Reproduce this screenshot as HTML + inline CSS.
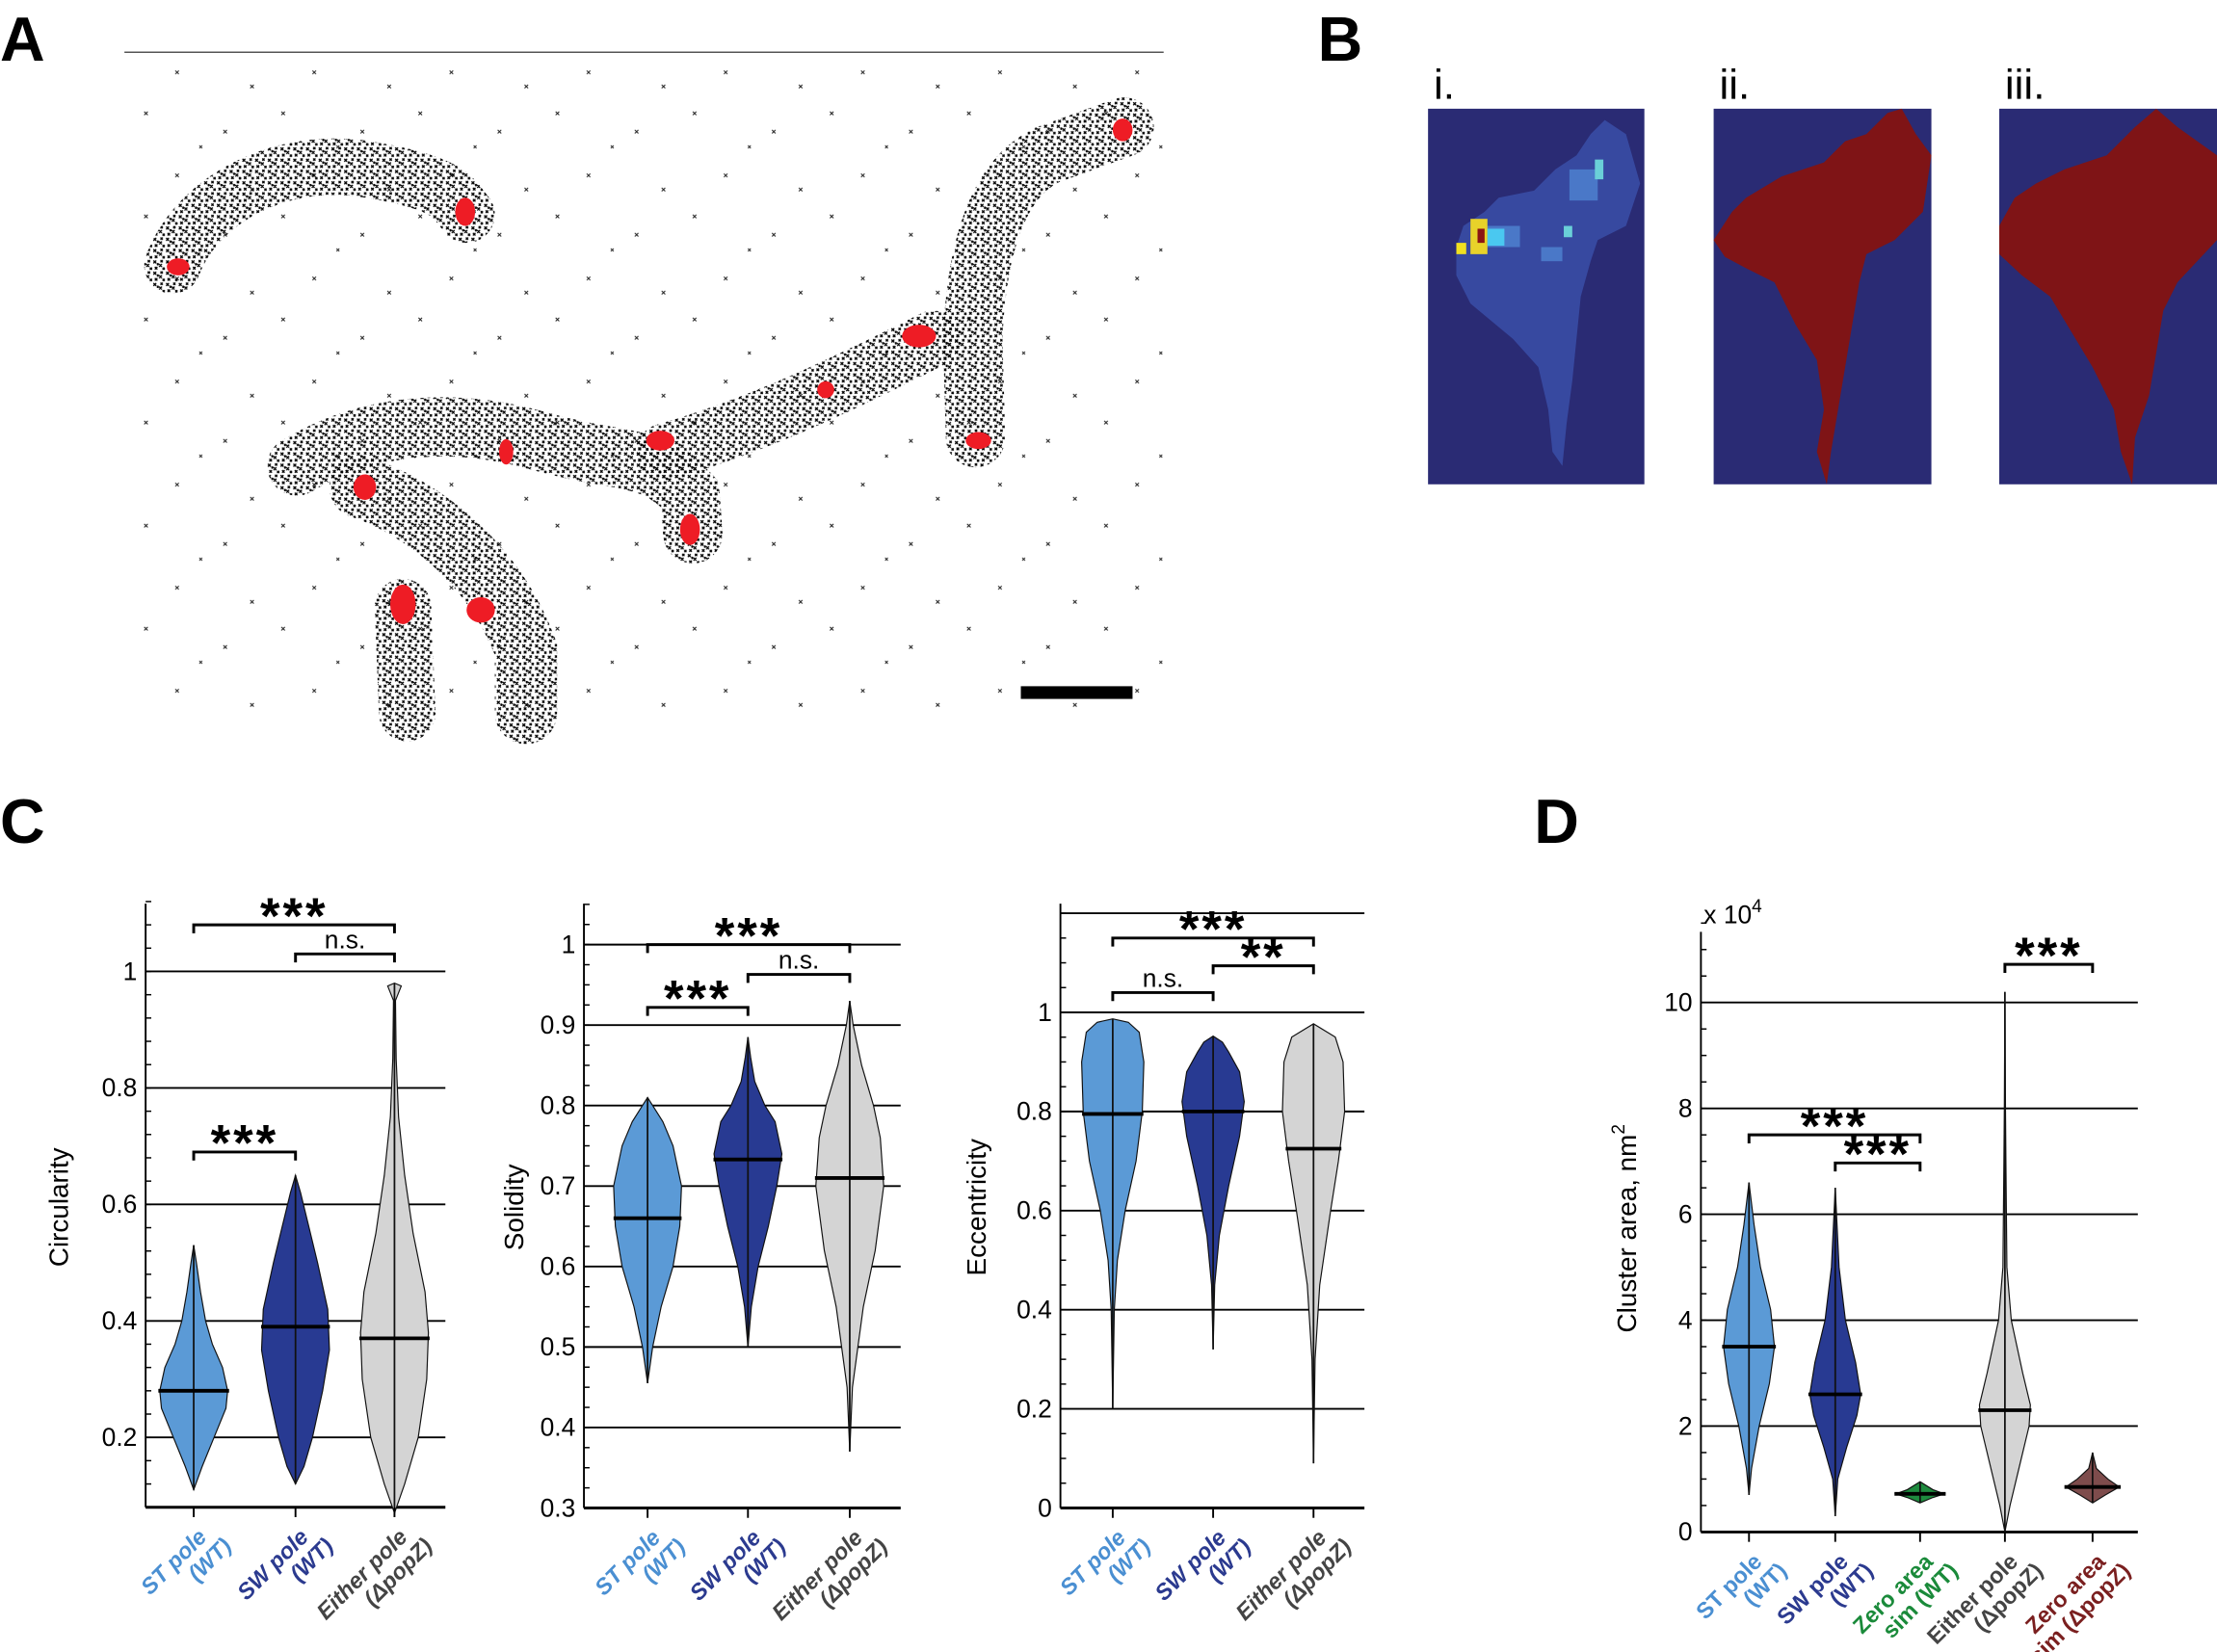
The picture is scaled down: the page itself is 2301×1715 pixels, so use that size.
<!DOCTYPE html>
<html><head><meta charset="utf-8"><style>
html,body{margin:0;padding:0;background:#fff;}
svg{display:block;font-family:"Liberation Sans",Arial,sans-serif;}
</style></head><body>
<svg id="fig" width="2301" height="1715" viewBox="0 0 1568 1170" preserveAspectRatio="none" xmlns="http://www.w3.org/2000/svg">
<defs>
<pattern id="dense" width="9" height="8" patternUnits="userSpaceOnUse">
<g stroke="#000" stroke-width="0.9"><path d="M0.5 0.5l2 2M2.5 0.5l-2 2M4.5 3l2 2M6.5 3l-2 2M1.5 5l1.8 1.8M3.3 5l-1.8 1.8M5.5 0.2l1.6 1.6M7.1 0.2l-1.6 1.6M7 5.5l1.5 1.5M8.5 5.5l-1.5 1.5M3 2.5l1.2 1.2M4.2 2.5l-1.2 1.2"/></g>
</pattern>
<pattern id="sparse" width="97" height="73" patternUnits="userSpaceOnUse">
<g stroke="#222" stroke-width="0.7"><path d="M5 6l2.5 2.5M7.5 6l-2.5 2.5M61 19l2.5 2.5M63.5 19l-2.5 2.5M27 50l2.5 2.5M29.5 50l-2.5 2.5M80 60l2.5 2.5M82.5 60l-2.5 2.5M44 30l2 2M46 30l-2 2"/></g>
</pattern>
</defs>

<text x="0" y="43" font-size="44" font-weight="bold">A</text>
<text x="932" y="43" font-size="44" font-weight="bold">B</text>
<text x="0" y="597" font-size="44" font-weight="bold">C</text>
<text x="1085" y="597" font-size="44" font-weight="bold">D</text>

<g>
<line x1="88" y1="37" x2="823" y2="37" stroke="#555" stroke-width="1"/>
<rect x="88" y="40" width="735" height="470" fill="url(#sparse)"/>
<g fill="none" stroke="url(#dense)" stroke-linecap="round">
<path d="M122 188 C140 140 200 110 260 120 S320 140 330 152" stroke-width="40"/>
<path d="M210 330 C260 300 320 295 380 312 S460 320 488 350 L490 378" stroke-width="42"/>
<path d="M255 345 C300 360 350 400 372 460 L372 505" stroke-width="44"/>
<path d="M285 430 L288 505" stroke-width="40"/>
<path d="M470 320 C540 300 600 270 660 240" stroke-width="40"/>
<path d="M690 310 L688 240 C690 190 700 130 740 110 L795 90" stroke-width="42"/>
</g>
<g fill="#ee1c25">
<ellipse cx="126" cy="189" rx="8" ry="6"/><ellipse cx="329" cy="150" rx="7" ry="10"/>
<ellipse cx="258" cy="345" rx="8" ry="9"/><ellipse cx="358" cy="320" rx="5" ry="9"/>
<ellipse cx="467" cy="312" rx="10" ry="7"/><ellipse cx="488" cy="375" rx="7" ry="11"/>
<ellipse cx="584" cy="276" rx="6" ry="6"/><ellipse cx="650" cy="238" rx="12" ry="8"/>
<ellipse cx="692" cy="312" rx="9" ry="6"/><ellipse cx="794" cy="92" rx="7" ry="8"/>
<ellipse cx="285" cy="428" rx="9" ry="14"/><ellipse cx="340" cy="432" rx="10" ry="9"/>
</g>
<rect x="722" y="486" width="79" height="9" fill="#000"/>
</g>

<g>
<text x="1014" y="70" font-size="30">i.</text>
<text x="1216" y="70" font-size="30">ii.</text>
<text x="1418" y="70" font-size="30">iii.</text>
<rect x="1010" y="77" width="153" height="266" fill="#2a2b74"/>
<rect x="1212" y="77" width="154" height="266" fill="#2a2b74"/>
<rect x="1414" y="77" width="154" height="266" fill="#2a2b74"/>
<g fill="#3a4fa8" opacity="0.85">
<path d="M1030 175 L1035 160 L1050 150 L1060 140 L1085 135 L1100 120 L1115 110 L1125 95 L1135 85 L1150 95 L1160 130 L1150 160 L1130 170 L1125 185 L1118 210 L1115 240 L1112 270 L1108 300 L1105 330 L1098 320 L1095 290 L1088 260 L1070 240 L1058 230 L1040 215 L1030 195 Z"/>
</g>
<g fill="#4a78c8"><rect x="1110" y="120" width="20" height="22"/><rect x="1050" y="160" width="25" height="15"/><rect x="1090" y="175" width="15" height="10"/></g>
<rect x="1040" y="155" width="12" height="25" fill="#e8d22a"/>
<rect x="1045" y="162" width="5" height="10" fill="#8b1414"/>
<rect x="1052" y="162" width="12" height="12" fill="#4ac8f0"/>
<rect x="1030" y="172" width="7" height="8" fill="#f0e020"/>
<rect x="1128" y="113" width="6" height="14" fill="#6ad0d8"/>
<rect x="1106" y="160" width="6" height="8" fill="#6ad0d8"/>
<g fill="#7f1416">
<path d="M1212 170 L1225 150 L1235 140 L1260 125 L1290 115 L1305 100 L1320 95 L1335 80 L1345 77 L1355 95 L1366 110 L1360 150 L1340 170 L1320 180 L1315 200 L1310 230 L1305 260 L1300 290 L1295 320 L1292 343 L1285 320 L1290 290 L1285 255 L1270 230 L1255 200 L1235 190 L1220 182 Z"/>
<path d="M1414 160 L1425 140 L1440 130 L1460 120 L1490 110 L1510 90 L1525 77 L1540 90 L1568 110 L1568 170 L1540 200 L1530 220 L1525 250 L1520 280 L1510 310 L1508 343 L1500 320 L1495 290 L1480 260 L1465 235 L1450 210 L1430 195 L1414 180 Z"/>
</g>
</g>

<g id="charts"></g>
</svg>
<script>
const NS='http://www.w3.org/2000/svg';
const root=document.getElementById('charts');
function mk(tag,attrs,parent,text){const e=document.createElementNS(NS,tag);for(const k in attrs)e.setAttribute(k,attrs[k]);if(text!==undefined)e.textContent=text;(parent||root).appendChild(e);return e;}

const catsC=['ST pole|(WT)','SW pole|(WT)','Either pole|(ΔpopZ)'];
const catsD=['ST pole|(WT)','SW pole|(WT)','Zero area|sim (WT)','Either pole|(ΔpopZ)','Zero area|sim (ΔpopZ)'];
const colorsC=['#5b9ad6','#283a92','#d4d4d4'];
const colorsD=['#5b9ad6','#283a92','#1e8a3e','#d4d4d4','#7e4c4c'];
const labelColorsC=['#4a8fd2','#2b3a8f','#444'];
const labelColorsD=['#4a8fd2','#2b3a8f','#1a8a3a','#444','#7a1f1f'];

const circMedians=[0.28,0.39,0.37];
const circProfiles=[
 [[0.11,0],[0.15,0.25],[0.2,0.6],[0.25,0.95],[0.28,1],[0.32,0.85],[0.36,0.55],[0.4,0.35],[0.45,0.2],[0.5,0.08],[0.53,0]],
 [[0.12,0],[0.15,0.25],[0.2,0.5],[0.28,0.8],[0.35,1],[0.42,0.95],[0.5,0.65],[0.56,0.4],[0.62,0.15],[0.65,0]],
 [[0.07,0],[0.12,0.3],[0.2,0.7],[0.3,0.95],[0.38,1],[0.45,0.9],[0.55,0.55],[0.65,0.3],[0.75,0.12],[0.85,0.05],[0.95,0.03],[0.975,0.2],[0.98,0]]];
const solMedians=[0.66,0.733,0.71];
const solProfiles=[
 [[0.455,0],[0.5,0.15],[0.55,0.4],[0.6,0.75],[0.65,0.95],[0.7,1],[0.75,0.75],[0.78,0.45],[0.8,0.15],[0.81,0]],
 [[0.5,0],[0.55,0.1],[0.6,0.3],[0.65,0.6],[0.7,0.85],[0.74,1],[0.78,0.8],[0.8,0.5],[0.83,0.2],[0.86,0.08],[0.885,0]],
 [[0.37,0],[0.45,0.08],[0.55,0.4],[0.62,0.75],[0.7,1],[0.76,0.9],[0.8,0.7],[0.85,0.35],[0.9,0.1],[0.93,0]]];
const eccMedians=[0.795,0.8,0.725];
const eccProfiles=[
 [[0.2,0],[0.4,0.05],[0.5,0.15],[0.6,0.4],[0.7,0.75],[0.8,0.95],[0.9,1],[0.96,0.85],[0.98,0.5],[0.987,0]],
 [[0.32,0],[0.45,0.05],[0.55,0.2],[0.65,0.5],[0.75,0.85],[0.82,1],[0.88,0.85],[0.92,0.5],[0.94,0.3],[0.952,0]],
 [[0.09,0],[0.3,0.05],[0.45,0.2],[0.6,0.55],[0.7,0.8],[0.8,1],[0.9,0.95],[0.95,0.7],[0.977,0]]];
const areaMedians=[3.5,2.6,0.72,2.3,0.85];
const areaProfiles=[
 [[0.7,0],[1.2,0.1],[2,0.4],[2.8,0.8],[3.5,1],[4.2,0.85],[5,0.45],[5.8,0.2],[6.6,0]],
 [[0.3,0],[1,0.1],[1.6,0.45],[2.2,0.85],[2.6,1],[3.2,0.8],[4,0.4],[5,0.15],[6,0.05],[6.5,0]],
 [[0.55,0],[0.65,0.5],[0.72,0.95],[0.8,0.5],[0.95,0]],
 [[0,0],[0.5,0.2],[1.2,0.55],[2,0.95],[2.4,1],[3,0.7],[4,0.25],[5,0.08],[7,0.04],[8,0.02],[10.2,0]],
 [[0.55,0],[0.7,0.5],[0.85,1.05],[1,0.6],[1.2,0.15],[1.5,0]]];

const circTicks=['0.2','0.4','0.6','0.8','1'];
const solTicks=['0.3','0.4','0.5','0.6','0.7','0.8','0.9','1'];
const eccTicks=['0','0.2','0.4','0.6','0.8','1'];
const areaTicks=['0','2','4','6','8','10'];

const circSig=[[0,2,'***',1.08],[1,2,'n.s.',1.03],[0,1,'***',0.69]];
const solSig=[[0,2,'***',1.0],[1,2,'n.s.',0.963],[0,1,'***',0.922]];
const eccSig=[[0,2,'***',1.15],[1,2,'**',1.094],[0,1,'n.s.',1.04]];
const areaSig=[[0,2,'***',7.5],[1,2,'***',6.97],[3,4,'***',10.72]];

function panel(o){
  const g=mk('g',{});
  
  
  const y=v=>o.y0-(v-o.v0)*o.ppu;
  const x=i=>o.xs[i];
  o.grid.forEach(v=>{const l=mk('line',{x1:o.ax,x2:o.ax2,y1:y(v),y2:y(v),stroke:'#000','stroke-width':1.3},g);
    });
  for(let v=o.vmin;v<=o.vtop+1e-9;v+=o.minor){mk('line',{x1:o.ax,x2:o.ax+4,y1:y(v),y2:y(v),stroke:'#000','stroke-width':1},g);}
  const ya=mk('line',{x1:o.ax,x2:o.ax,y1:y(o.vmin),y2:o.ytop,stroke:'#000','stroke-width':1.3},g);
  
  const xa=mk('line',{x1:o.ax,x2:o.ax2,y1:y(o.vmin),y2:y(o.vmin),stroke:'#000','stroke-width':2},g);
  
  o.ticks.forEach(t=>{const e=mk('text',{x:o.ax-6,y:y(parseFloat(t))+6,'text-anchor':'end','font-size':18},g,t);
    });
  const ti=mk('text',{x:0,y:0,'text-anchor':'middle','font-size':19,transform:`translate(${o.tx},${o.ty}) rotate(-90)`},g);
  
  ti.innerHTML=o.title;
  o.profiles.forEach((p,i)=>{
    const cx=x(i);let L=[],R=[];
    p.forEach(([v,w])=>{R.push((cx+w*o.half).toFixed(1)+','+y(v).toFixed(1));L.unshift((cx-w*o.half).toFixed(1)+','+y(v).toFixed(1));});
    const vp=mk('polygon',{points:R.concat(L).join(' '),fill:o.colors[i],stroke:'#111','stroke-width':0.8},g);
    
    mk('line',{x1:cx,x2:cx,y1:y(p[0][0]),y2:y(p[p.length-1][0]),stroke:'#111','stroke-width':1.2},g);
    let mw=0;for(let k=0;k<p.length-1;k++){if(o.medians[i]>=p[k][0]&&o.medians[i]<=p[k+1][0]){const f=(o.medians[i]-p[k][0])/(p[k+1][0]-p[k][0]);mw=p[k][1]+f*(p[k+1][1]-p[k][1]);}}
    const md=mk('line',{x1:cx-mw*o.half-1,x2:cx+mw*o.half+1,y1:y(o.medians[i]),y2:y(o.medians[i]),stroke:'#000','stroke-width':2.6},g);
    
    mk('line',{x1:cx,x2:cx,y1:y(o.vmin),y2:y(o.vmin)+7,stroke:'#000','stroke-width':1.3},g);
    const parts=o.cats[i].split('|');
    const tl=mk('text',{transform:`translate(${cx+10},${y(o.vmin)+22}) rotate(-45)`,'text-anchor':'end','font-size':16,'font-weight':'bold','font-style':o.italic?'italic':'normal',fill:o.lcolors[i]},g);
    
    mk('tspan',{x:0,y:0},tl,parts[0]);mk('tspan',{x:8,y:17},tl,parts[1]);
  });
  o.sig.forEach(([a,b,lab,v])=>{
    const yy=y(v);
    const br=mk('path',{d:`M${x(a)} ${yy+6}V${yy}H${x(b)}V${yy+6}`,fill:'none',stroke:'#000','stroke-width':2},g);
    
    const star=lab.indexOf('*')>=0;
    const t=mk('text',{x:(x(a)+x(b))/2,y:star?yy+6:yy-4,'text-anchor':'middle','font-size':star?36:18,'font-weight':star?'bold':'normal','letter-spacing':star?2:0},g,lab);
    
  });
}

panel({name:'circularity-chart',v0:1,y0:688,ppu:412.5,vmin:0.08,vtop:1.12,ytop:640,minor:0.04,ax:103,ax2:315,xs:[137,209,279],
  grid:[0.2,0.4,0.6,0.8,1],ticks:circTicks,title:'Circularity',tx:48,ty:855,profiles:circProfiles,medians:circMedians,half:24,
  colors:colorsC,lcolors:labelColorsC,cats:catsC,sig:circSig,italic:true});
panel({name:'solidity-chart',v0:1,y0:669,ppu:570,vmin:0.3,vtop:1.05,ytop:640,minor:0.025,ax:413,ax2:637,xs:[458,529,601],
  grid:[0.4,0.5,0.6,0.7,0.8,0.9,1],ticks:solTicks,title:'Solidity',tx:370,ty:855,profiles:solProfiles,medians:solMedians,half:24,
  colors:colorsC,lcolors:labelColorsC,cats:catsC,sig:solSig,italic:true});
panel({name:'eccentricity-chart',v0:0,y0:1068,ppu:351,vmin:0,vtop:1.2,ytop:640,minor:0.05,ax:750,ax2:965,xs:[787,858,929],
  grid:[0.2,0.4,0.6,0.8,1,1.2],ticks:eccTicks,title:'Eccentricity',tx:697,ty:855,profiles:eccProfiles,medians:eccMedians,half:22,
  colors:colorsC,lcolors:labelColorsC,cats:catsC,sig:eccSig,italic:true});
panel({name:'cluster-area-chart',v0:0,y0:1085,ppu:37.5,vmin:0,vtop:11.5,ytop:660,minor:0.5,ax:1203,ax2:1512,xs:[1237,1298,1358,1418,1480],
  grid:[2,4,6,8,10],ticks:areaTicks,title:'Cluster area, nm<tspan dy="-8" font-size="13">2</tspan>',tx:1157,ty:870,profiles:areaProfiles,medians:areaMedians,half:18,
  colors:colorsD,lcolors:labelColorsD,cats:catsD,sig:areaSig,italic:false});
const ex=mk('text',{x:1205,y:654,'font-size':18});


ex.innerHTML='x 10<tspan dy="-8" font-size="13">4</tspan>';
</script>
</body></html>
